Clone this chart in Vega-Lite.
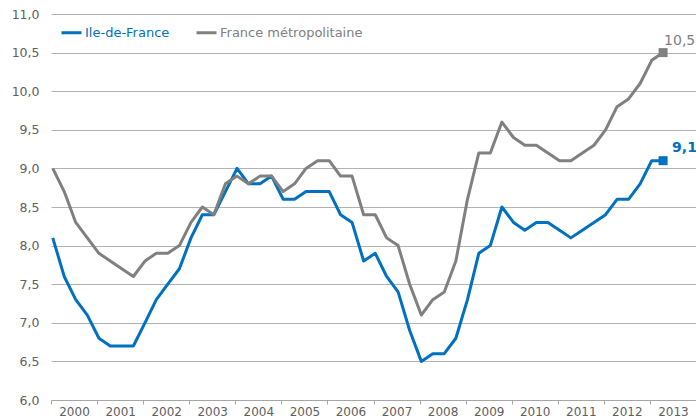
{
  "$schema": "https://vega.github.io/schema/vega-lite/v6.json",
  "autosize": {"type": "none"},
  "padding": {"left": 51, "top": 14, "right": 0, "bottom": 19},
  "width": 645,
  "height": 386,
  "background": "white",
  "config": {
    "locale": {"number": {"decimal": ",", "thousands": " ", "grouping": [3], "currency": ["", " €"]}},
    "font": "DejaVu Sans",
    "view": {"stroke": null}
  },
  "data": {"values": [
    {"d": "2000-01-15", "Ile-de-France": 8.1, "France métropolitaine": 9.0},
    {"d": "2000-04-15", "Ile-de-France": 7.6, "France métropolitaine": 8.7},
    {"d": "2000-07-15", "Ile-de-France": 7.3, "France métropolitaine": 8.3},
    {"d": "2000-10-15", "Ile-de-France": 7.1, "France métropolitaine": 8.1},
    {"d": "2001-01-15", "Ile-de-France": 6.8, "France métropolitaine": 7.9},
    {"d": "2001-04-15", "Ile-de-France": 6.7, "France métropolitaine": 7.8},
    {"d": "2001-07-15", "Ile-de-France": 6.7, "France métropolitaine": 7.7},
    {"d": "2001-10-15", "Ile-de-France": 6.7, "France métropolitaine": 7.6},
    {"d": "2002-01-15", "Ile-de-France": 7.0, "France métropolitaine": 7.8},
    {"d": "2002-04-15", "Ile-de-France": 7.3, "France métropolitaine": 7.9},
    {"d": "2002-07-15", "Ile-de-France": 7.5, "France métropolitaine": 7.9},
    {"d": "2002-10-15", "Ile-de-France": 7.7, "France métropolitaine": 8.0},
    {"d": "2003-01-15", "Ile-de-France": 8.1, "France métropolitaine": 8.3},
    {"d": "2003-04-15", "Ile-de-France": 8.4, "France métropolitaine": 8.5},
    {"d": "2003-07-15", "Ile-de-France": 8.4, "France métropolitaine": 8.4},
    {"d": "2003-10-15", "Ile-de-France": 8.7, "France métropolitaine": 8.8},
    {"d": "2004-01-15", "Ile-de-France": 9.0, "France métropolitaine": 8.9},
    {"d": "2004-04-15", "Ile-de-France": 8.8, "France métropolitaine": 8.8},
    {"d": "2004-07-15", "Ile-de-France": 8.8, "France métropolitaine": 8.9},
    {"d": "2004-10-15", "Ile-de-France": 8.9, "France métropolitaine": 8.9},
    {"d": "2005-01-15", "Ile-de-France": 8.6, "France métropolitaine": 8.7},
    {"d": "2005-04-15", "Ile-de-France": 8.6, "France métropolitaine": 8.8},
    {"d": "2005-07-15", "Ile-de-France": 8.7, "France métropolitaine": 9.0},
    {"d": "2005-10-15", "Ile-de-France": 8.7, "France métropolitaine": 9.1},
    {"d": "2006-01-15", "Ile-de-France": 8.7, "France métropolitaine": 9.1},
    {"d": "2006-04-15", "Ile-de-France": 8.4, "France métropolitaine": 8.9},
    {"d": "2006-07-15", "Ile-de-France": 8.3, "France métropolitaine": 8.9},
    {"d": "2006-10-15", "Ile-de-France": 7.8, "France métropolitaine": 8.4},
    {"d": "2007-01-15", "Ile-de-France": 7.9, "France métropolitaine": 8.4},
    {"d": "2007-04-15", "Ile-de-France": 7.6, "France métropolitaine": 8.1},
    {"d": "2007-07-15", "Ile-de-France": 7.4, "France métropolitaine": 8.0},
    {"d": "2007-10-15", "Ile-de-France": 6.9, "France métropolitaine": 7.5},
    {"d": "2008-01-15", "Ile-de-France": 6.5, "France métropolitaine": 7.1},
    {"d": "2008-04-15", "Ile-de-France": 6.6, "France métropolitaine": 7.3},
    {"d": "2008-07-15", "Ile-de-France": 6.6, "France métropolitaine": 7.4},
    {"d": "2008-10-15", "Ile-de-France": 6.8, "France métropolitaine": 7.8},
    {"d": "2009-01-15", "Ile-de-France": 7.3, "France métropolitaine": 8.6},
    {"d": "2009-04-15", "Ile-de-France": 7.9, "France métropolitaine": 9.2},
    {"d": "2009-07-15", "Ile-de-France": 8.0, "France métropolitaine": 9.2},
    {"d": "2009-10-15", "Ile-de-France": 8.5, "France métropolitaine": 9.6},
    {"d": "2010-01-15", "Ile-de-France": 8.3, "France métropolitaine": 9.4},
    {"d": "2010-04-15", "Ile-de-France": 8.2, "France métropolitaine": 9.3},
    {"d": "2010-07-15", "Ile-de-France": 8.3, "France métropolitaine": 9.3},
    {"d": "2010-10-15", "Ile-de-France": 8.3, "France métropolitaine": 9.2},
    {"d": "2011-01-15", "Ile-de-France": 8.2, "France métropolitaine": 9.1},
    {"d": "2011-04-15", "Ile-de-France": 8.1, "France métropolitaine": 9.1},
    {"d": "2011-07-15", "Ile-de-France": 8.2, "France métropolitaine": 9.2},
    {"d": "2011-10-15", "Ile-de-France": 8.3, "France métropolitaine": 9.3},
    {"d": "2012-01-15", "Ile-de-France": 8.4, "France métropolitaine": 9.5},
    {"d": "2012-04-15", "Ile-de-France": 8.6, "France métropolitaine": 9.8},
    {"d": "2012-07-15", "Ile-de-France": 8.6, "France métropolitaine": 9.9},
    {"d": "2012-10-15", "Ile-de-France": 8.8, "France métropolitaine": 10.1},
    {"d": "2013-01-15", "Ile-de-France": 9.1, "France métropolitaine": 10.4},
    {"d": "2013-04-15", "Ile-de-France": 9.1, "France métropolitaine": 10.5}
  ]},
  "transform": [{"fold": ["Ile-de-France", "France métropolitaine"], "as": ["serie", "taux"]}],
  "encoding": {
    "x": {
      "field": "d", "type": "temporal",
      "scale": {"type": "utc", "domain": [{"year": 2000, "month": 1, "date": 1, "utc": true}, {"year": 2013, "month": 12, "date": 31, "hours": 23, "utc": true}]},
      "axis": {"title": null, "format": "%Y", "tickCount": {"interval": "year", "step": 1}, "labelOffset": 23, "labelFlush": false, "grid": false, "domainColor": "#a6a6a6", "tickColor": "#a6a6a6", "tickSize": 4, "labelFontSize": 12, "labelColor": "#606060", "labelPadding": 2, "labelOverlap": false}
    },
    "y": {
      "field": "taux", "type": "quantitative",
      "scale": {"domain": [6, 11]},
      "axis": {"title": null, "values": [6, 6.5, 7, 7.5, 8, 8.5, 9, 9.5, 10, 10.5, 11], "format": ".1f", "grid": true, "gridColor": "#b3b3b3", "gridOpacity": 1, "domain": false, "ticks": false, "labelPadding": 12, "labelFontSize": 12.5, "labelColor": "#606060"}
    },
    "color": {
      "field": "serie", "type": "nominal",
      "scale": {"domain": ["Ile-de-France", "France métropolitaine"], "range": ["#0070C0", "#808080"]},
      "legend": {"orient": "none", "legendX": 9, "legendY": 7, "direction": "horizontal", "title": null, "symbolType": "stroke", "symbolSize": 400, "symbolStrokeWidth": 3, "labelFontSize": 13, "labelOffset": 2, "columnPadding": 20, "labelLimit": 300,
        "encode": {"labels": {"update": {"fill": {"signal": "datum.value === 'Ile-de-France' ? '#0070C0' : '#808080'"}}}}}
    }
  },
  "layer": [
    {"mark": {"type": "line", "strokeWidth": 3, "strokeJoin": "round"}},
    {"transform": [{"filter": "utcyear(datum.d) == 2013 && utcmonth(datum.d) == 3"}],
     "mark": {"type": "square", "size": 81, "opacity": 1, "filled": true}},
    {"transform": [{"filter": "utcyear(datum.d) == 2013 && utcmonth(datum.d) == 3 && datum.serie == 'France métropolitaine'"}],
     "mark": {"type": "text", "align": "left", "baseline": "alphabetic", "dx": 1, "dy": -8, "fontSize": 14},
     "encoding": {"text": {"field": "taux", "format": ".1f"}, "color": {"value": "#808080"}}},
    {"transform": [{"filter": "utcyear(datum.d) == 2013 && utcmonth(datum.d) == 3 && datum.serie == 'Ile-de-France'"}],
     "mark": {"type": "text", "align": "left", "baseline": "alphabetic", "dx": 9, "dy": -9, "fontSize": 14, "fontWeight": "bold"},
     "encoding": {"text": {"field": "taux", "format": ".1f"}, "color": {"value": "#0070C0"}}}
  ]
}
